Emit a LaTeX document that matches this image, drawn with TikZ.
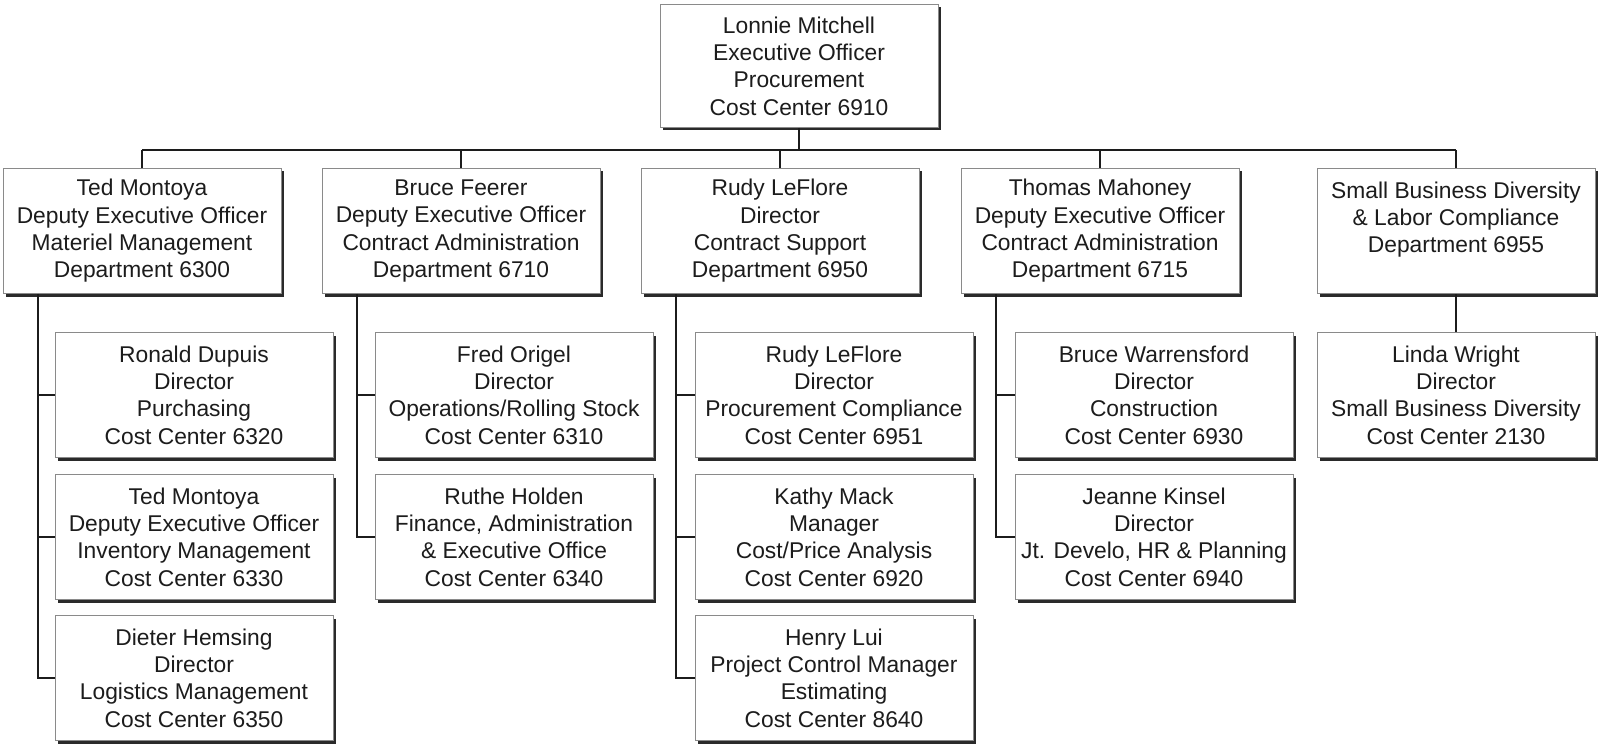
\documentclass[tikz,border=0pt]{standalone}
\usepackage{fontspec}
\setmainfont{Liberation Sans}
\usepackage{tikz}
\usetikzlibrary{shadows}
\definecolor{orgInk}{HTML}{1C1C1C}
\definecolor{orgEdge}{HTML}{8A8A8A}
\definecolor{orgShade}{HTML}{2A2A2A}

\tikzset{
  unit/.style={draw=orgEdge,line width=0.8pt,fill=white,align=center,
    minimum width=278pt,minimum height=125pt,inner sep=0pt,text=orgInk,
    font=\fontsize{22.8}{27.3}\selectfont,
    drop shadow={shadow xshift=3pt,shadow yshift=-3pt,fill=orgShade,opacity=1}},
  link/.style={draw=orgInk,line width=1.8pt}
}

\begin{document}
\begin{tikzpicture}[x=1pt,y=-1pt]
\useasboundingbox (0,0) rectangle (1599,746);
% head of procurement
\node[unit,minimum height=123pt] (mitchell) at (799,66) {Lonnie Mitchell\\Executive Officer\\Procurement\\Cost Center 6910};
% departments
\node[unit] (montoya) at (142,231) {Ted Montoya\\Deputy Executive Officer\\Materiel Management\\Department 6300};
\node[unit] (feerer) at (461,231) {Bruce Feerer\\Deputy Executive Officer\\Contract Administration\\Department 6710};
\node[unit] (leflore) at (780,231) {Rudy LeFlore\\Director\\Contract Support\\Department 6950};
\node[unit] (mahoney) at (1100,231) {Thomas Mahoney\\Deputy Executive Officer\\Contract Administration\\Department 6715};
\node[unit] (sbd) at (1456,231) {Small Business Diversity\\\& Labor Compliance\\Department 6955\\~};
% cost centers
\node[unit] (dupuis) at (194,395) {Ronald Dupuis\\Director\\Purchasing\\Cost Center 6320};
\node[unit] (inventory) at (194,537) {Ted Montoya\\Deputy Executive Officer\\Inventory Management\\Cost Center 6330};
\node[unit] (hemsing) at (194,678) {Dieter Hemsing\\Director\\Logistics Management\\Cost Center 6350};
\node[unit] (origel) at (514,395) {Fred Origel\\Director\\Operations/Rolling Stock\\Cost Center 6310};
\node[unit] (holden) at (514,537) {Ruthe Holden\\Finance, Administration\\\& Executive Office\\Cost Center 6340};
\node[unit] (compliance) at (834,395) {Rudy LeFlore\\Director\\Procurement Compliance\\Cost Center 6951};
\node[unit] (mack) at (834,537) {Kathy Mack\\Manager\\Cost/Price Analysis\\Cost Center 6920};
\node[unit] (lui) at (834,678) {Henry Lui\\Project Control Manager\\Estimating\\Cost Center 8640};
\node[unit] (warrensford) at (1154,395) {Bruce Warrensford\\Director\\Construction\\Cost Center 6930};
\node[unit] (kinsel) at (1154,537) {Jeanne Kinsel\\Director\\Jt. Develo, HR \& Planning\\Cost Center 6940};
\node[unit] (wright) at (1456,395) {Linda Wright\\Director\\Small Business Diversity\\Cost Center 2130};

% top bus
\coordinate (bus) at (0,150);
\draw[link] (mitchell.south) -- (mitchell.south |- bus);
\draw[link] (montoya.north |- bus) -- (sbd.north |- bus);
\foreach \n in {montoya,feerer,leflore,mahoney,sbd}
  \draw[link] (\n.north |- bus) -- (\n.north);

% spines
\coordinate (spA) at ([xshift=35pt]montoya.south west);
\coordinate (spB) at ([xshift=35pt]feerer.south west);
\coordinate (spC) at ([xshift=35pt]leflore.south west);
\coordinate (spD) at ([xshift=35pt]mahoney.south west);
\draw[link] (spA) |- (hemsing.west);
\draw[link] (spB) |- (holden.west);
\draw[link] (spC) |- (lui.west);
\draw[link] (spD) |- (kinsel.west);
\foreach \n/\s in {dupuis/spA,inventory/spA,origel/spB,compliance/spC,mack/spC,warrensford/spD}
  \draw[link] (\n.west) -- (\n.west -| \s);
\draw[link] (sbd.south) -- (wright.north);
\end{tikzpicture}
\end{document}
